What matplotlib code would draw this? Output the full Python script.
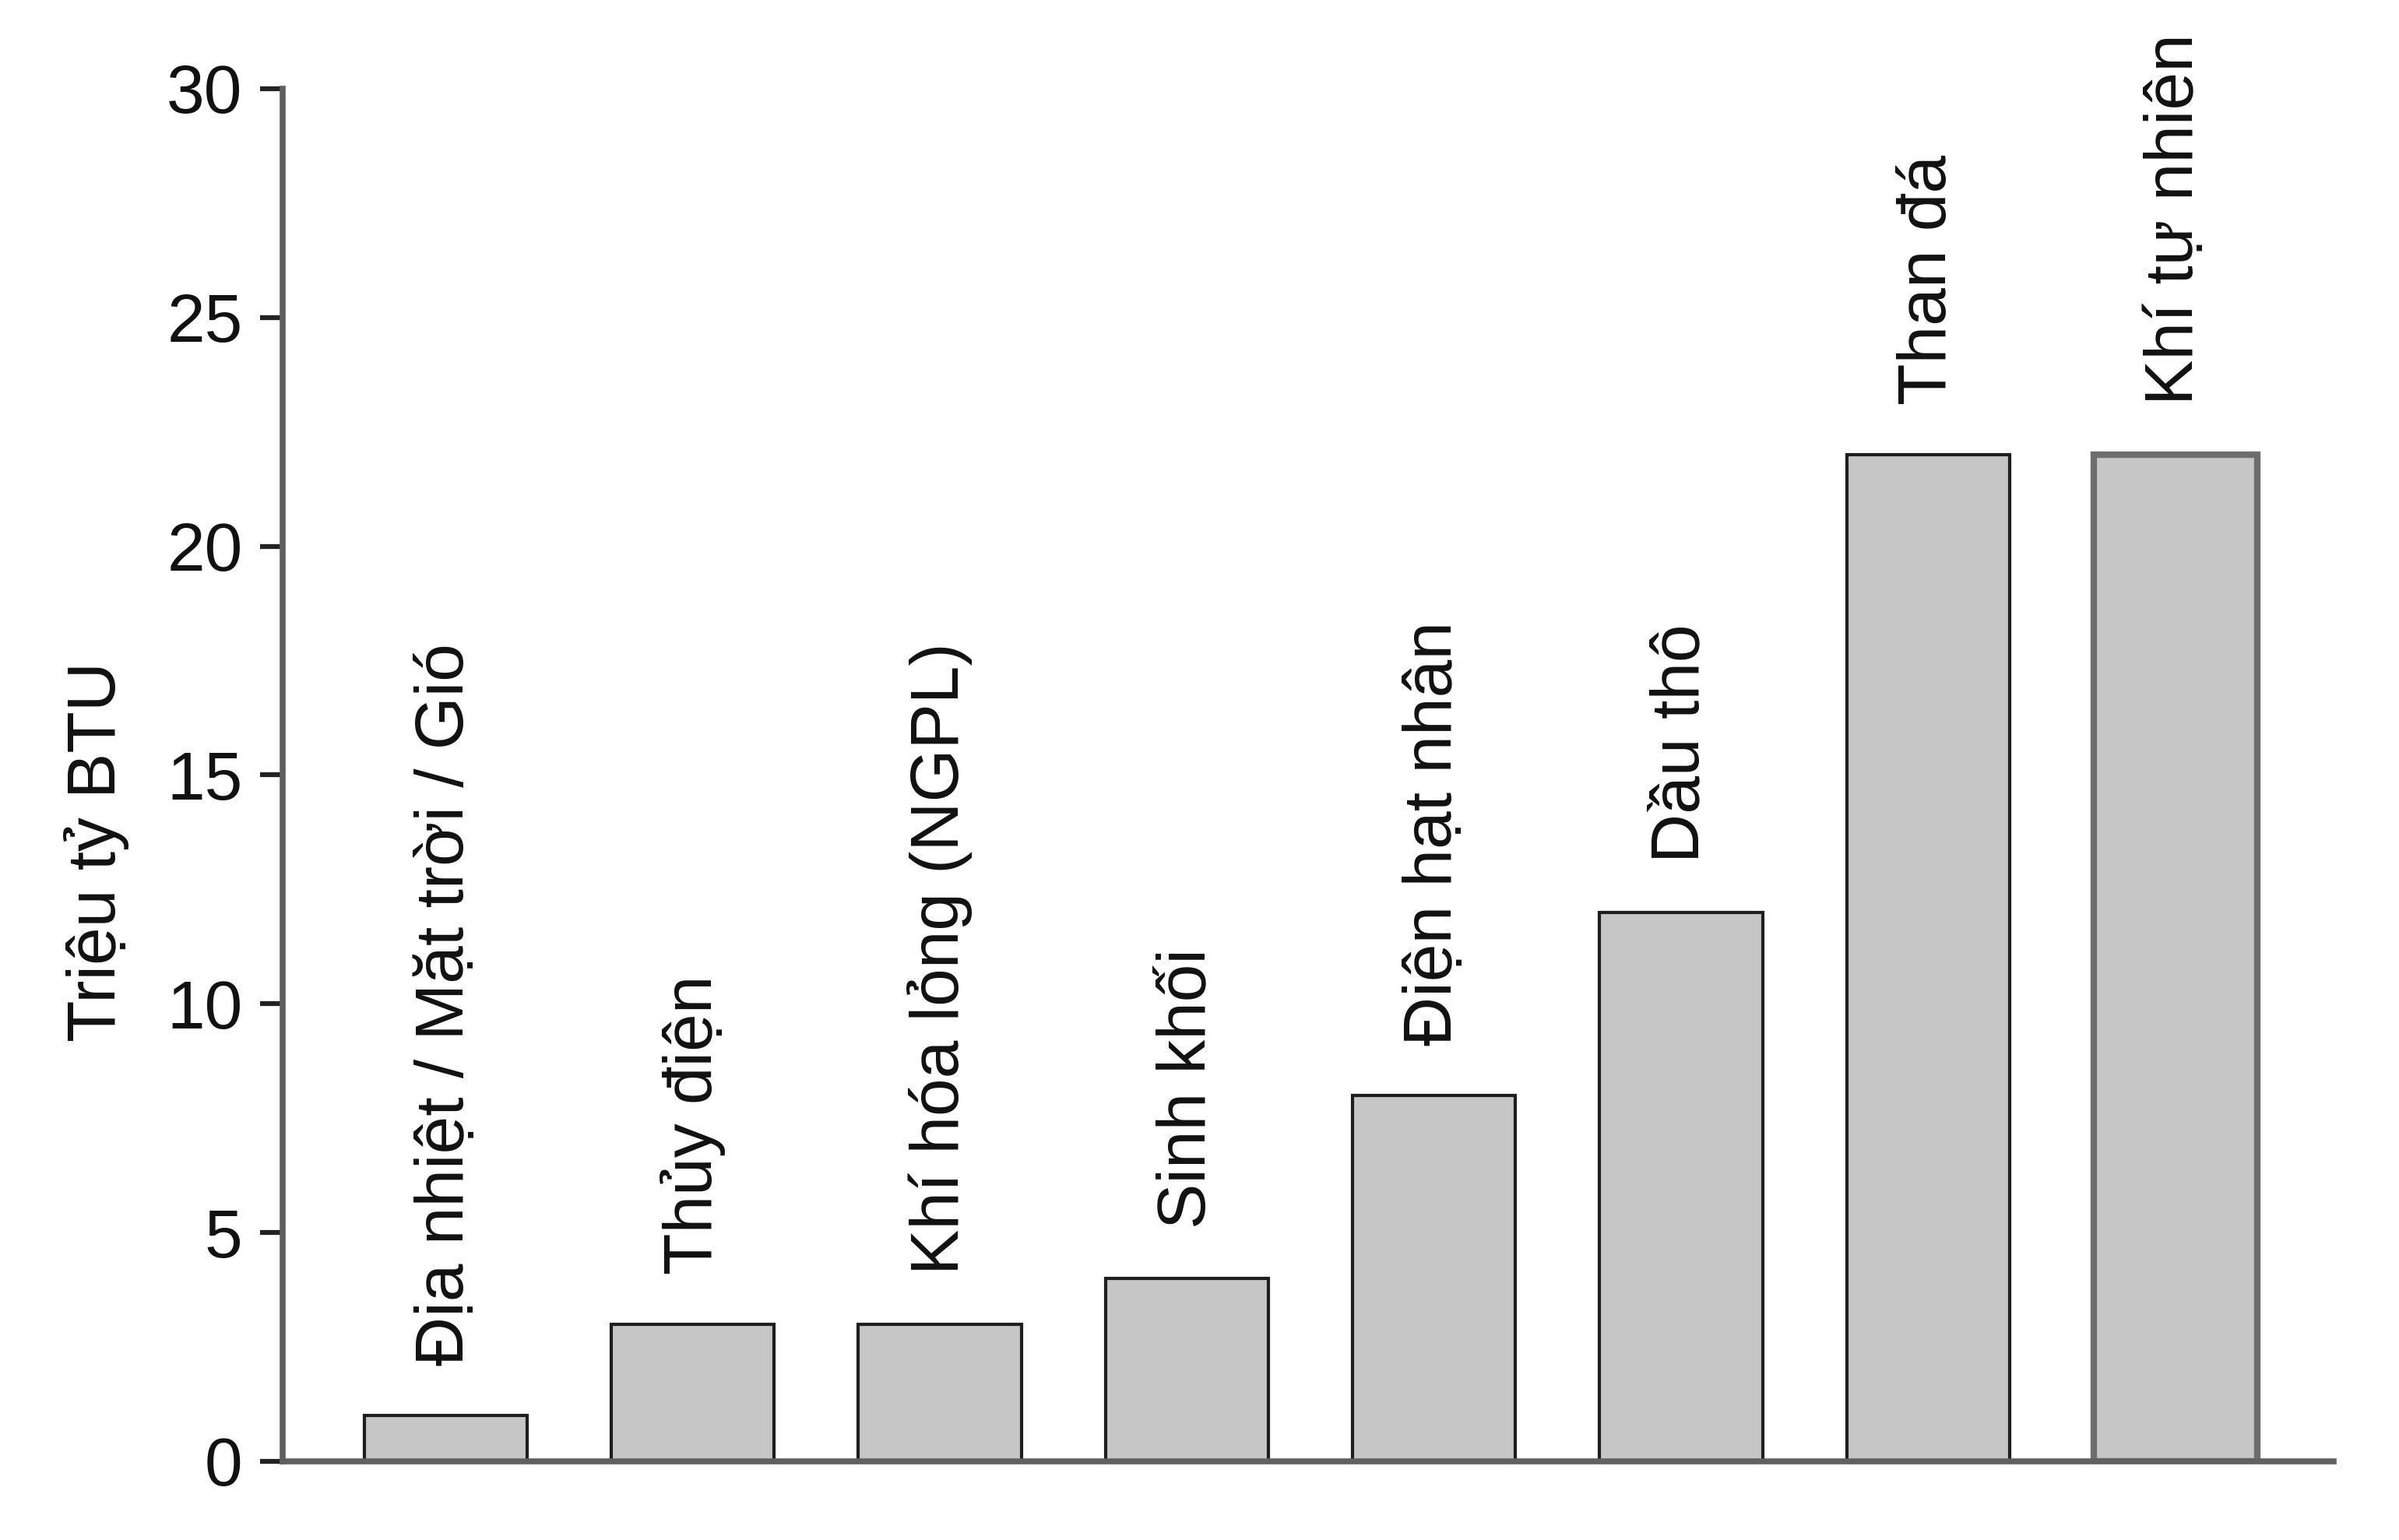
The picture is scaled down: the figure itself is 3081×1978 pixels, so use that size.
import matplotlib.pyplot as plt

plt.rcParams["font.family"] = ["Liberation Sans", "DejaVu Sans"]

# data
sources = [
    "Địa nhiệt / Mặt trời / Gió",
    "Thủy điện",
    "Khí hóa lỏng (NGPL)",
    "Sinh khối",
    "Điện hạt nhân",
    "Dầu thô",
    "Than đá",
    "Khí tự nhiên",
]
values = [1, 3, 3, 4, 8, 12, 22, 22]
y_ticks = [0, 5, 10, 15, 20, 25, 30]

FONT_SIZE = 63
BAR_COLOR = "#c6c6c6"
AXIS_COLOR = "#606060"

fig = plt.figure(figsize=(30.81, 19.78), dpi=100)
ax = fig.add_axes([0.1178, 0.0511, 0.8549, 0.8913])

x = range(len(values))
edge_colors = ["#1e1e1e"] * (len(values) - 1) + ["#6e6e6e"]
edge_widths = [3] * (len(values) - 1) + [6]
bars = ax.bar(
    x,
    values,
    width=0.66,
    color=BAR_COLOR,
    edgecolor=edge_colors,
    linewidth=edge_widths,
    zorder=2,
)

# labels above the bars, rotated
for rect, label in zip(bars, sources):
    ax.annotate(
        label,
        xy=(rect.get_x() + rect.get_width() / 2, rect.get_height()),
        xytext=(0, 46),
        textcoords="offset points",
        rotation=90,
        ha="center",
        va="bottom",
        fontsize=FONT_SIZE,
        color="#111111",
    )

ax.set_xlim(-0.66, 7.64)
ax.set_ylim(0, 30)
ax.set_yticks(y_ticks)
ax.set_xticks([])

for side in ["top", "right"]:
    ax.spines[side].set_visible(False)
for side in ["left", "bottom"]:
    ax.spines[side].set_color(AXIS_COLOR)
    ax.spines[side].set_linewidth(5.5)
    ax.spines[side].set_zorder(3)

ax.tick_params(
    axis="y",
    length=21,
    width=4.5,
    color="#222222",
    pad=16,
    labelsize=FONT_SIZE,
    labelcolor="#111111",
)

fig.text(
    0.0402,
    0.447,
    "Triệu tỷ BTU",
    rotation=90,
    ha="center",
    va="center",
    fontsize=FONT_SIZE,
    color="#111111",
)

plt.savefig("out.png", dpi=100)
